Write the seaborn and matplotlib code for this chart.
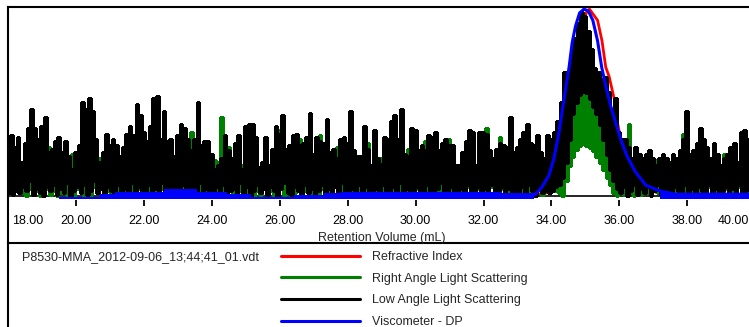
import numpy as np
import pandas as pd
import matplotlib
matplotlib.use("Agg")
import matplotlib.pyplot as plt
import matplotlib.transforms as mtransforms
from matplotlib.lines import Line2D
import seaborn as sns

# ---------------- data ----------------
sample_name = "P8530-MMA_2012-09-06_13;44;41_01.vdt"
series_names = ["Refractive Index", "Right Angle Light Scattering",
                "Low Angle Light Scattering", "Viscometer - DP"]
series_colors = ["#ff0000", "#008000", "#000000", "#0000ff"]

tick_values = [18, 20, 22, 24, 26, 28, 30, 32, 34, 36, 38, 40]
tick_labels = ["18.00", "20.00", "22.00", "24.00", "26.00", "28.00",
               "30.00", "32.00", "34.00", "36.00", "38.00", "40.00"]
x_title = "Retention Volume (mL)"

# light-scattering traces: local maxima at 18.00, 18.10, ... 40.00 mL
# and local minima at 18.05, 18.15, ... 39.95 mL
lals_peaks = [
    22, 32, 26, 31, 18, 28, 36, 46, 36, 30,
    37, 42, 23, 25, 29, 31, 23, 29, 21, 14,
    23, 27, 50, 46, 52, 45, 30, 18, 23, 33,
    27, 30, 27, 21, 26, 33, 37, 32, 49, 43,
    34, 29, 37, 52, 53, 30, 45, 29, 30, 21,
    32, 38, 36, 30, 24, 30, 50, 27, 29, 29,
    22, 14, 16, 20, 32, 24, 20, 28, 32, 14,
    37, 38, 38, 31, 15, 18, 31, 16, 25, 37,
    33, 43, 25, 27, 32, 33, 27, 28, 31, 44,
    22, 31, 29, 28, 41, 23, 25, 20, 30, 31,
    28, 45, 24, 21, 21, 37, 25, 16, 35, 20,
    17, 31, 30, 40, 43, 30, 46, 22, 21, 36,
    35, 24, 27, 24, 32, 31, 34, 24, 28, 30,
    27, 27, 16, 16, 23, 29, 35, 34, 16, 34,
    34, 33, 24, 20, 25, 28, 27, 26, 42, 23,
    26, 30, 34, 38, 28, 27, 32, 23, 20, 32,
    30, 34, 40, 50, 66, 62, 75, 84, 92, 98,
    96, 88, 78, 68, 66, 62, 63, 55, 46, 52,
    34, 30, 30, 26, 20, 26, 22, 20, 22, 24,
    20, 16, 20, 22, 20, 18, 22, 20, 24, 30,
    45, 22, 24, 28, 36, 30, 26, 20, 28, 22,
    16, 20, 22, 26, 28, 18, 34, 35, 30, 30,
    28]
lals_troughs = [
    2, 1, 3, 2, 5, 3, 8, 1, 4, 2,
    0, 5, 3, 6, 1, 4, 2, 7, 0, 3,
    5, 2, 6, 1, 3, 8, 2, 4, 0, 5,
    3, 1, 6, 2, 4, 0, 7, 3, 5, 1,
    2, 6, 0, 4, 3, 7, 1, 5, 2, 4,
    0, 6, 3, 1, 5, 2, 7, 0, 4, 3,
    1, 5, 2, 6, 0, 3, 4, 1, 7, 2,
    5, 0, 3, 6, 2, 4, 1, 5, 3, 0,
    4, 7, 2, 1, 5, 3, 0, 6, 2, 4,
    1, 3, 6, 0, 4, 2, 5, 1, 7, 3,
    0, 4, 2, 6, 1, 5, 3, 0, 4, 2,
    6, 1, 3, 5, 0, 7, 2, 4, 1, 3,
    5, 0, 2, 6, 3, 1, 4, 7, 0, 2,
    5, 3, 1, 4, 0, 6, 2, 3, 5, 1,
    4, 0, 6, 2, 3, 5, 1, 4, 0, 3,
    2, 5, 1, 6, 3, 0, 4, 2, 3, 2,
    3, 5, 6, 10, 18, 30, 44, 50, 54, 56,
    55, 52, 48, 44, 38, 30, 22, 14, 8, 4,
    2, 5, 0, 3, 6, 1, 4, 2, 5, 0,
    3, 6, 1, 4, 2, 0, 5, 3, 1, 6,
    2, 4, 0, 5, 3, 1, 6, 2, 4, 0,
    3, 5, 1, 4, 2, 6, 0, 3, 5, 2]
rals_peaks = [
    10, 12, 10, 12, 12, 18, 22, 28, 24, 18,
    22, 26, 26, 17, 20, 20, 15, 18, 14, 22,
    16, 18, 30, 28, 32, 28, 20, 20, 16, 20,
    18, 20, 18, 14, 17, 22, 24, 22, 30, 28,
    22, 20, 24, 32, 34, 20, 28, 20, 20, 15,
    21, 25, 24, 20, 34, 22, 32, 20, 20, 18,
    18, 19, 18, 42, 22, 26, 14, 20, 22, 16,
    24, 25, 26, 21, 12, 16, 20, 14, 18, 24,
    35, 28, 18, 20, 22, 22, 30, 20, 21, 28,
    16, 22, 32, 20, 27, 17, 18, 26, 21, 22,
    20, 30, 17, 15, 16, 25, 28, 12, 24, 15,
    20, 22, 21, 27, 29, 22, 30, 16, 25, 24,
    24, 18, 19, 29, 22, 21, 23, 17, 20, 21,
    30, 24, 12, 12, 16, 20, 24, 23, 12, 23,
    24, 36, 17, 15, 18, 31, 19, 18, 28, 17,
    18, 21, 23, 26, 20, 19, 22, 16, 15, 21,
    20, 24, 26, 34, 40, 46, 50, 52, 54, 53,
    55, 52, 50, 47, 42, 38, 33, 28, 24, 20,
    24, 22, 20, 38, 16, 18, 16, 15, 16, 17,
    15, 19, 15, 16, 15, 13, 16, 15, 17, 33,
    30, 16, 17, 20, 25, 21, 18, 15, 20, 16,
    12, 22, 16, 19, 20, 13, 24, 25, 21, 34,
    20]
rals_troughs = [
    8, 9, 7, 3, 2, 0, 4, 1, 3, 0,
    2, 4, 1, 3, 0, 2, 5, 1, 3, 0,
    4, 2, 0, 3, 1, 5, 2, 6, 0, 3,
    1, 4, 2, 0, 3, 5, 1, 2, 4, 0,
    3, 1, 5, 2, 0, 4, 2, 3, 1, 0,
    4, 2, 1, 5, 3, 0, 2, 4, 1, 3,
    5, 2, 0, 3, 1, 4, 2, 0, 3, 1,
    2, 4, 0, 3, 1, 5, 2, 3, 0, 2,
    4, 1, 3, 0, 2, 5, 1, 3, 2, 0,
    3, 1, 4, 2, 0, 3, 5, 1, 2, 4,
    0, 2, 3, 1, 4, 0, 2, 5, 1, 3,
    2, 0, 4, 1, 3, 2, 5, 0, 3, 1,
    4, 2, 0, 3, 1, 5, 2, 3, 0, 2,
    1, 4, 2, 0, 3, 5, 1, 2, 4, 0,
    3, 1, 5, 2, 0, 4, 1, 3, 2, 0,
    4, 2, 1, 3, 0, 2, 5, 1, 3, 2,
    4, 3, 2, 0, 8, 16, 21, 25, 27, 28,
    27, 26, 24, 21, 18, 14, 10, 6, 2, 0,
    3, 1, 4, 2, 0, 3, 1, 5, 2, 0,
    4, 2, 1, 3, 0, 5, 2, 1, 4, 3,
    0, 2, 4, 1, 3, 0, 5, 2, 1, 3,
    2, 4, 0, 3, 1, 5, 2, 0, 3, 1]

ri_volume = [33.5, 33.9, 34.1, 34.3, 34.5, 34.65, 34.8, 34.95, 35.05, 35.12,
             35.2, 35.36, 35.49, 35.6, 35.7, 35.85, 35.95, 36.05, 36.2, 36.45,
             36.75, 37.1, 37.6]
ri_signal = [1.0, 2, 8, 20, 42, 62, 80, 94, 99, 100,
             98, 94, 83, 69, 64, 52, 39, 30, 21, 12,
             5, 2, 1.2]

# viscometer: main trace around the peak
dp_volume = [33.3, 33.52, 33.72, 33.92, 34.07, 34.22, 34.37, 34.52,
             34.61, 34.71, 34.83, 34.96, 35.09, 35.22, 35.36, 35.48, 35.6, 35.75,
             35.9, 36.05, 36.24, 36.48, 36.78, 37.18, 37.66, 40.5]
dp_signal = [1.0, 1.0, 5, 11, 20, 34, 52, 69,
             82, 91, 98, 100, 99, 94, 83, 69, 59, 48,
             39, 30, 21, 13, 6, 3, 1.2, 1.2]
# viscometer baseline noise band (upper edge, step segments)
dp_band_volume = [19.5, 20.71, 21.15, 22.58, 23.57, 24.45, 25.14, 26.42,
                  27.31, 27.8, 28.99, 32.54, 33.5]
dp_band_top = [-0.1, 1.3, 2.5, 3.8, 2.5, 1.3, -0.1, 0.8,
               1.7, 2.2, 2.5, 1.8, 1.8]
dp_band_bottom = -1.4
dp_tail_volume = [37.2, 40.5]
dp_tail_top = [2.0, 2.0]

# ---------------- build tidy frames ----------------
peak_x = np.round(np.linspace(18.0, 40.0, len(lals_peaks)), 3)
trough_x = np.round(peak_x[:-1] + 0.05, 3)


def zigzag(peaks, troughs):
    n = len(peaks) + len(troughs)
    xs = np.empty(n)
    ys = np.empty(n)
    xs[0::2] = peak_x
    xs[1::2] = trough_x
    ys[0::2] = peaks
    ys[1::2] = troughs
    return pd.DataFrame({"volume": xs, "signal": ys})


lals_df = zigzag(lals_peaks, lals_troughs)
rals_df = zigzag(rals_peaks, rals_troughs)
ri_df = pd.DataFrame({"volume": ri_volume, "signal": ri_signal})
dp_df = pd.DataFrame({"volume": dp_volume, "signal": dp_signal})

# ---------------- style ----------------
sns.set_style("white")
plt.rcParams["font.family"] = ["Liberation Sans", "DejaVu Sans"]
plt.rcParams["font.size"] = 9

W, H = 749, 327
fig = plt.figure(figsize=(W / 100, H / 100), dpi=100)
fig.patch.set_facecolor("white")

left = 8.4 / W
px_per_ml = 33.94
x_min, x_max = 18.0, 40.5
ax_w = (x_max - x_min) * px_per_ml / W
ax_bottom_px, ax_top_px = 200.0, 6.5

# outer frame (left and top rule)
axf = fig.add_axes([left, -0.05, 1.1, (H - ax_top_px) / H + 0.05])
# separator above the legend block
axs = fig.add_axes([left, -0.05, 1.1, (H - 243) / H + 0.05])
for a, keep in ((axf, ("left", "top")), (axs, ("top",))):
    a.set_facecolor("none")
    a.set_xticks([])
    a.set_yticks([])
    for name, sp in a.spines.items():
        sp.set_visible(name in keep)
        sp.set_linewidth(1.5)
        sp.set_color("black")

ax = fig.add_axes([left, (H - ax_bottom_px) / H, ax_w, (ax_bottom_px - ax_top_px) / H])
ax.set_facecolor("none")
ax.set_zorder(3)

sns.lineplot(data=ri_df, x="volume", y="signal", ax=ax, color=series_colors[0],
             lw=2.0, sort=False, estimator=None, zorder=2)
ax.axhline(0, color="black", lw=1.2, zorder=2.5)
sns.lineplot(data=rals_df, x="volume", y="signal", ax=ax, color=series_colors[1],
             lw=1.5, sort=False, estimator=None, drawstyle="steps-mid",
             antialiased=False, zorder=3)
sns.lineplot(data=lals_df, x="volume", y="signal", ax=ax, color=series_colors[2],
             lw=1.5, sort=False, estimator=None, drawstyle="steps-mid",
             antialiased=False, zorder=4)
ax.fill_between(dp_band_volume, dp_band_bottom, dp_band_top, step="post",
                color=series_colors[3], lw=0, zorder=5)
ax.fill_between(dp_tail_volume, dp_band_bottom, dp_tail_top,
                color=series_colors[3], lw=0, zorder=5)
sns.lineplot(data=dp_df, x="volume", y="signal", ax=ax, color=series_colors[3],
             lw=2.2, sort=False, estimator=None, zorder=6)

ax.set_xlim(x_min, x_max)
ax.set_ylim(-1.9, 101.4)
ax.set_yticks([])
ax.set_ylabel("")
for sp in ax.spines.values():
    sp.set_visible(False)

ax.set_xticks(tick_values)
ax.set_xticklabels(tick_labels)
ax.tick_params(axis="x", direction="out", length=4, width=1.3, pad=7,
               labelsize=9, colors="black", bottom=True)
ax.set_xlabel(x_title, fontsize=9)
ax.xaxis.set_label_coords((382 - 8.4) / (ax_w * W), -(232 - ax_bottom_px) / (ax_bottom_px - ax_top_px))

labels = ax.get_xticklabels()
labels[0].set_transform(labels[0].get_transform()
                        + mtransforms.ScaledTranslation(0.196, 0, fig.dpi_scale_trans))
labels[-1].set_transform(labels[-1].get_transform()
                         + mtransforms.ScaledTranslation(-0.215, 0, fig.dpi_scale_trans))

# legend block
handles = [Line2D([], [], color=c, lw=2.2) for c in series_colors]
fig.legend(handles, series_names, loc="upper left",
           bbox_to_anchor=(281 / W, (H - 251) / H), frameon=False,
           borderpad=0, borderaxespad=0, handlelength=6.3, handletextpad=1.0,
           labelspacing=0.78, fontsize=9)
fig.text(22 / W, (H - 257) / H, sample_name, ha="left", va="center", fontsize=9)

fig.savefig("out.png", dpi=100, facecolor="white")
